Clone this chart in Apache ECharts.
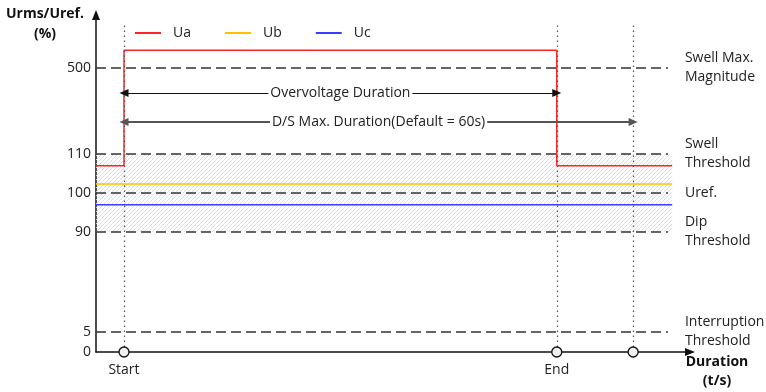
<!DOCTYPE html>
<html>
<head>
<meta charset="utf-8">
<script src="https://cdn.jsdelivr.net/npm/echarts@6/dist/echarts.min.js"></script>
<style>
  html, body { margin: 0; padding: 0; background: #fff; }
  #main { width: 766px; height: 392px; }
</style>
</head>
<body>
<div id="main"></div>
<script>
// y tick levels (%) and where they sit on the schematic (broken) axis
var yLevels = [0, 5, 90, 100, 110, 500];
var yLevelPos = [0, 20, 120, 159, 198, 284];

// threshold lines
var lineLevels = [500, 110, 100, 90, 5];
var lineNames = ['Swell Max.\nMagnitude', 'Swell\nThreshold', 'Uref.', 'Dip\nThreshold', 'Interruption\nThreshold'];

// time (s)
var tTrace = [-3.3, 0, 0, 51, 51, 64.6];
var uaVals = [107, 107, 580, 580, 107, 107];
var tFlat = [-3.3, 64.6];
var ubVals = [102.3, 102.3];
var ucVals = [97, 97];

var tMarks = [0, 51, 60];
var tMarkNames = ['Start', 'End', ''];

var spanNames = ['Overvoltage Duration', 'D/S Max. Duration(Default = 60s)'];
var spanEnds = [51, 60];
var spanLevels = [387, 255];

var FONT = '"Open Sans", "Noto Sans", sans-serif';

// percent -> position on the broken axis
function pos(v) {
    var n = yLevels.length;
    if (v >= yLevels[n - 1]) {
        var k = (yLevelPos[n - 1] - yLevelPos[n - 2]) / (yLevels[n - 1] - yLevels[n - 2]);
        return yLevelPos[n - 1] + (v - yLevels[n - 1]) * k;
    }
    for (var i = 1; i < n; i++) {
        if (v <= yLevels[i]) {
            var r = (v - yLevels[i - 1]) / (yLevels[i] - yLevels[i - 1]);
            return yLevelPos[i - 1] + r * (yLevelPos[i] - yLevelPos[i - 1]);
        }
    }
}

function pairs(xs, ys) {
    var out = [];
    for (var i = 0; i < xs.length; i++) out.push([xs[i], pos(ys[i])]);
    return out;
}

function hatchPattern() {
    var c = document.createElement('canvas');
    c.width = 4; c.height = 4;
    var ctx = c.getContext('2d');
    ctx.strokeStyle = '#d3d9e8';
    ctx.lineWidth = 0.9;
    ctx.beginPath();
    ctx.moveTo(0, 4); ctx.lineTo(4, 0);
    ctx.moveTo(-1, 1); ctx.lineTo(1, -1);
    ctx.moveTo(3, 5); ctx.lineTo(5, 3);
    ctx.stroke();
    return c;
}

var xMin = -3.3, xMax = 66.7, dashEnd = 64.1;

var thresholdData = [];
for (var i = 0; i < lineLevels.length; i++) {
    thresholdData.push([
        { name: lineNames[i], coord: [xMin, pos(lineLevels[i])] },
        { coord: [dashEnd, pos(lineLevels[i])] }
    ]);
}

var dotData = [];
for (var j = 0; j < tMarks.length; j++) {
    dotData.push([{ coord: [tMarks[j], 0] }, { coord: [tMarks[j], pos(700)] }]);
}

var spanData = [];
for (var k = 0; k < spanNames.length; k++) {
    spanData.push([
        { name: spanNames[k], coord: [0, pos(spanLevels[k])],
          lineStyle: k == 0 ? { color: '#111', width: 1 } : { color: '#555', width: 1.8 } },
        { coord: [spanEnds[k], pos(spanLevels[k])] }
    ]);
}

var chart = echarts.init(document.getElementById('main'));
var option = {
    animation: false,
    backgroundColor: '#fff',
    textStyle: { fontFamily: FONT },
    grid: { left: 96, right: 76, top: 15, bottom: 40 },
    legend: {
        data: ['Ua', 'Ub', 'Uc'],
        left: 130, top: 21,
        icon: 'rect',
        itemWidth: 26, itemHeight: 2, itemGap: 34,
        textStyle: { fontSize: 14, color: '#222', padding: [0, 0, 0, 7], fontFamily: FONT }
    },
    graphic: [
        { type: 'text', x: 45, y: 4,
          style: { text: 'Urms/Uref.\n(%)', font: 'bold 14px ' + FONT, fill: '#111',
                   textAlign: 'center', textVerticalAlign: 'top', lineHeight: 20 } },
        { type: 'text', x: 717, y: 353,
          style: { text: 'Duration\n(t/s)', font: 'bold 14px ' + FONT, fill: '#111',
                   textAlign: 'center', textVerticalAlign: 'top', lineHeight: 19 } }
    ],
    xAxis: {
        type: 'value', min: xMin, max: xMax,
        splitLine: { show: false },
        axisTick: { show: false },
        axisLine: { lineStyle: { color: '#111', width: 1.5 }, symbol: ['none', 'triangle'], symbolSize: [8, 10] },
        axisLabel: {
            customValues: [0, 51],
            fontSize: 14, color: '#222', margin: 11,
            formatter: function (v) { return tMarkNames[tMarks.indexOf(v)] || ''; }
        }
    },
    yAxis: {
        type: 'value', min: 0, max: 337,
        splitLine: { show: false },
        axisTick: { show: false },
        axisLine: { show: true, onZero: false, lineStyle: { color: '#111', width: 1.5 },
                    symbol: ['none', 'triangle'], symbolSize: [8, 10] },
        axisLabel: {
            customValues: yLevelPos,
            fontSize: 14, color: '#222', margin: 5,
            formatter: function (v) { return String(yLevels[yLevelPos.indexOf(v)]); }
        }
    },
    series: [
        {
            name: 'band', type: 'line', data: [], z: 1, clip: false, silent: true,
            markArea: {
                silent: true,
                itemStyle: { color: { image: hatchPattern(), repeat: 'repeat' } },
                data: [[{ coord: [xMin, pos(90)] }, { coord: [64.6, pos(110)] }]]
            }
        },
        {
            name: 'thresholds', type: 'line', data: [], z: 2, clip: false, silent: true,
            markLine: {
                silent: true, symbol: 'none',
                lineStyle: { color: '#333', width: 1.5, type: [10, 5] },
                label: { position: 'end', distance: 17, formatter: '{b}', fontSize: 14,
                         color: '#222', lineHeight: 19, align: 'left', fontFamily: FONT },
                data: thresholdData
            }
        },
        {
            name: 'marks', type: 'line', data: [], z: 2, clip: false, silent: true,
            markLine: {
                silent: true, symbol: 'none',
                lineStyle: { color: '#555', width: 1.2, type: [1.5, 3.5] },
                label: { show: false },
                data: dotData
            }
        },
        {
            name: 'spans', type: 'line', data: [], z: 4, clip: false, silent: true,
            markLine: {
                silent: true, symbol: ['triangle', 'triangle'], symbolSize: [8, 9],
                lineStyle: { type: 'solid' },
                label: { position: 'insideMiddle', formatter: '{b}', fontSize: 14, color: '#222',
                         backgroundColor: '#fff', padding: [0, 2], fontFamily: FONT },
                data: spanData
            }
        },
        {
            name: 'Ua', type: 'line', data: pairs(tTrace, uaVals), symbol: 'none', z: 3,
            color: '#ff2222', lineStyle: { width: 1.5 }
        },
        {
            name: 'Ub', type: 'line', data: pairs(tFlat, ubVals), symbol: 'none', z: 3,
            color: '#ffc000', lineStyle: { width: 1.5 }
        },
        {
            name: 'Uc', type: 'line', data: pairs(tFlat, ucVals), symbol: 'none', z: 3,
            color: '#3c3cff', lineStyle: { width: 1.5 }
        },
        {
            name: 'points', type: 'scatter', z: 6, clip: false, silent: true,
            data: tMarks.map(function (t) { return [t, 0]; }),
            symbol: 'circle', symbolSize: 10,
            itemStyle: { color: '#f0f0f0', borderColor: '#111', borderWidth: 1.3, opacity: 1 }
        }
    ]
};
chart.setOption(option);
</script>
</body>
</html>
